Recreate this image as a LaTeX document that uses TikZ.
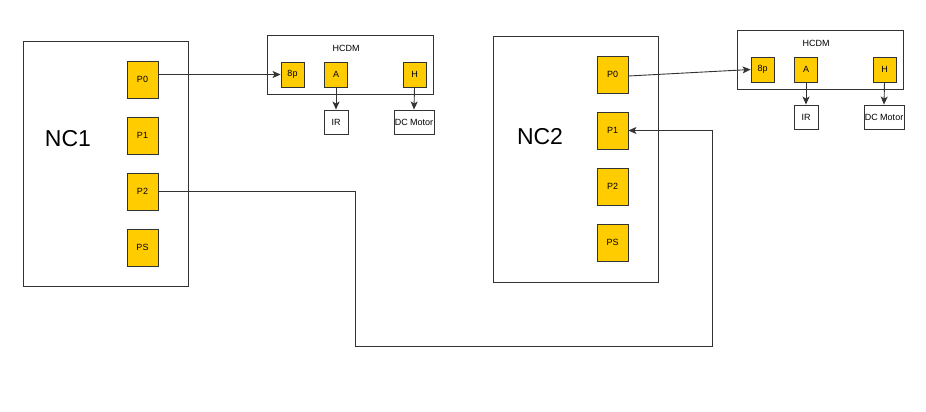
\documentclass[tikz,border=0pt]{standalone}
\usepackage{fontspec}
\setmainfont{Liberation Sans}
\usetikzlibrary{arrows.meta}
\definecolor{portyellow}{HTML}{FFCC00}
\definecolor{linegray}{HTML}{333333}
\begin{document}
\begin{tikzpicture}[x=1pt,y=-1pt,
  outerbox/.style={draw=linegray,line width=0.9pt,fill=white,inner sep=0pt},
  port/.style={draw=linegray,line width=0.9pt,fill=portyellow,inner sep=0pt,
    minimum width=31pt,minimum height=37pt,font=\fontsize{9}{10}\selectfont},
  hport/.style={draw=linegray,line width=0.9pt,fill=portyellow,inner sep=0pt,
    minimum width=23pt,minimum height=25pt,font=\fontsize{9}{10}\selectfont},
  dev/.style={draw=linegray,line width=0.9pt,fill=white,inner sep=0pt,
    minimum height=24pt,font=\fontsize{9}{10}\selectfont},
  bigtxt/.style={font=\fontsize{23}{26}\selectfont,inner sep=0pt},
  smalltxt/.style={font=\fontsize{9}{10}\selectfont,inner sep=0pt},
  conn/.style={draw=linegray,line width=0.9pt},
  arr/.style={conn,-{Stealth[length=8pt,width=7pt,inset=2pt]}}]
\useasboundingbox (0,0) rectangle (926,412);
\fill[white] (0,0) rectangle (926,412);

% NC1
\node[outerbox,minimum width=165pt,minimum height=245pt] (nc1) at (105.5,163.5) {};
\node[bigtxt] (nc1t) at (68,139) {NC1};
\node[port] (p0a) at (142.5,79.5) {P0};
\node[port] (p1a) at (142.5,135.5) {P1};
\node[port] (p2a) at (142.5,191.5) {P2};
\node[port] (psa) at (142.5,247.5) {PS};

% NC2
\node[outerbox,minimum width=165pt,minimum height=246pt] (nc2) at (575.5,159) {};
\node[bigtxt] (nc2t) at (540,137) {NC2};
\node[port] (p0b) at (612.5,74.5) {P0};
\node[port] (p1b) at (612.5,130.5) {P1};
\node[port] (p2b) at (612.5,186.5) {P2};
\node[port] (psb) at (612.5,242.5) {PS};

% HCDM 1
\node[outerbox,minimum width=166pt,minimum height=59pt] (h1) at (350,64.5) {};
\node[smalltxt] (h1t) at (346,48.5) {HCDM};
\node[hport] (e1) at (292.5,74.5) {8p};
\node[hport] (a1) at (336,74.5) {A};
\node[hport] (hh1) at (414.5,74.5) {H};
\node[dev,minimum width=24pt] (ir1) at (336,122) {IR};
\node[dev,minimum width=40pt] (dc1) at (414,122) {DC Motor};

% HCDM 2
\node[outerbox,minimum width=166pt,minimum height=59pt] (h2) at (820,59.5) {};
\node[smalltxt] (h2t) at (816,43.5) {HCDM};
\node[hport] (e2) at (762.5,69.5) {8p};
\node[hport] (a2) at (806,69.5) {A};
\node[hport] (hh2) at (884.5,69.5) {H};
\node[dev,minimum width=24pt] (ir2) at (806,117) {IR};
\node[dev,minimum width=40pt] (dc2) at (884,117) {DC Motor};

% connectors
\draw[arr] (e1.west -| p0a.east) -- (e1.west);
\draw[arr] (a1.south) -- (ir1.north);
\draw[arr] (hh1.south) -- (dc1.north);
\draw[arr] ([yshift=-1.5pt]p0b.east) -- (e2.west);
\draw[arr] (a2.south) -- (ir2.north);
\draw[arr] (hh2.south) -- (dc2.north);
\coordinate (c1) at (355,346.5);
\coordinate (c2) at (712,346.5);
\draw[arr] (p2a.east) -| (c1) -| (c2) |- (p1b.east);
\end{tikzpicture}
\end{document}
